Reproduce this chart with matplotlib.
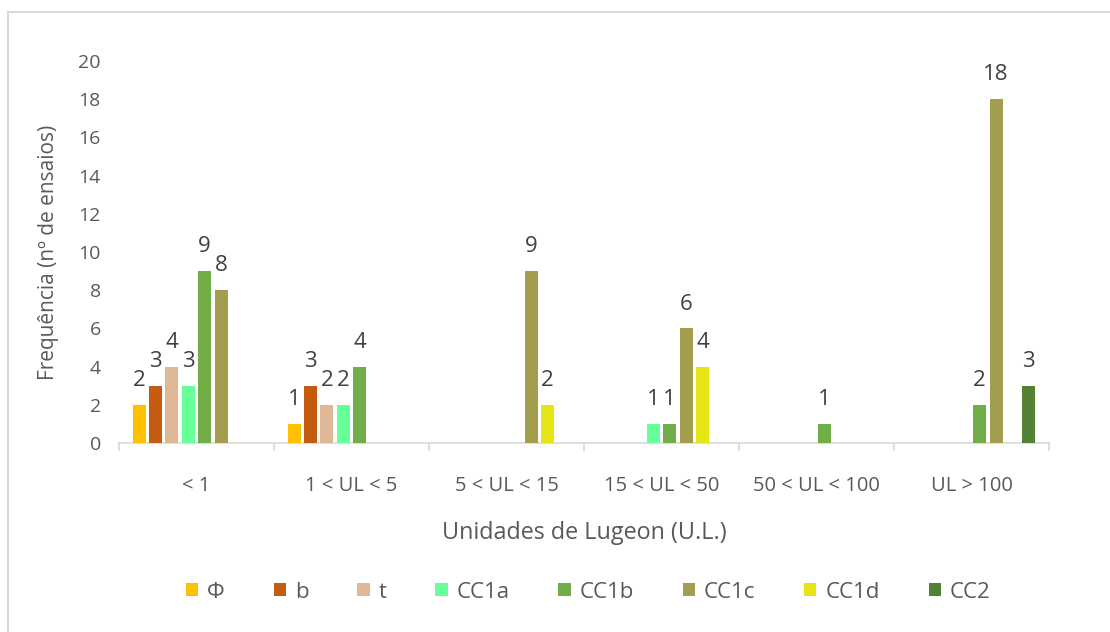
import numpy as np
import matplotlib.pyplot as plt
from matplotlib.lines import Line2D

plt.rcParams["font.family"] = ["Open Sans", "DejaVu Sans"]

categories = ["< 1", "1 < UL < 5", "5 < UL < 15", "15 < UL < 50", "50 < UL < 100", "UL > 100"]
series_names = ["Φ", "b", "t", "CC1a", "CC1b", "CC1c", "CC1d", "CC2"]
colors = ["#FFC000", "#C55A11", "#DEB896", "#66FF99", "#70AD47", "#A29E4E", "#E6E617", "#548235"]

# blank cells stay None so no bar / label is drawn
phi = [2, 1, None, None, None, None]
b = [3, 3, None, None, None, None]
t = [4, 2, None, None, None, None]
cc1a = [3, 2, None, 1, None, None]
cc1b = [9, 4, None, 1, 1, 2]
cc1c = [8, None, 9, 6, None, 18]
cc1d = [None, None, 2, 4, None, None]
cc2 = [None, None, None, None, None, 3]
series = [phi, b, t, cc1a, cc1b, cc1c, cc1d, cc2]

TEXT = "#595959"
LABEL = "#404040"

fig = plt.figure(figsize=(11.1, 6.32), dpi=100)
ax = fig.add_axes([0.1072, 0.299, 0.8378, 0.6045])

x = np.arange(len(categories))
slot = 0.1058
width = 0.084
for i, (name, vals, col) in enumerate(zip(series_names, series, colors)):
    v = np.array([np.nan if a is None else a for a in vals], dtype=float)
    mask = ~np.isnan(v)
    bars = ax.bar(x[mask] + (i - 3.5) * slot, v[mask], width=width, color=col,
                  label=name, zorder=3)
    ax.bar_label(bars, labels=[f"{int(val)}" for val in v[mask]], padding=10,
                 fontsize=16, color=LABEL)

ax.set_xlim(-0.5, len(categories) - 0.5)
ax.set_ylim(0, 20)
ax.set_yticks(range(0, 21, 2))

ax.set_xticks(x)
ax.set_xticklabels(categories, fontsize=14.5, color=TEXT)
ax.set_xticks(np.arange(-0.5, len(categories)), minor=True)
ax.tick_params(axis="x", which="major", length=0, pad=24)
ax.tick_params(axis="x", which="minor", length=6, width=1.2, color="#D9D9D9")
ax.tick_params(axis="y", length=0, pad=13, labelsize=14, labelcolor=TEXT)

for side in ["top", "right", "left"]:
    ax.spines[side].set_visible(False)
ax.spines["bottom"].set_color("#D9D9D9")
ax.spines["bottom"].set_linewidth(1.2)

ax.set_ylabel("Frequência (nº de ensaios)", fontsize=15, color=TEXT, labelpad=14)
ax.set_xlabel("Unidades de Lugeon (U.L.)", fontsize=16.8, color=TEXT, labelpad=18)

fig.legend(loc="center", bbox_to_anchor=(0.53, 1 - 592 / 632), ncol=8, frameon=False,
           fontsize=16, labelcolor=TEXT, handlelength=0.55, handleheight=0.55,
           handletextpad=0.4, columnspacing=2.2)

# chart area outline (top and left edges visible)
fig.add_artist(Line2D([8 / 1110, 1.0], [1 - 12 / 632] * 2, transform=fig.transFigure,
                      color="#D9D9D9", lw=1.5))
fig.add_artist(Line2D([8 / 1110] * 2, [0.0, 1 - 12 / 632], transform=fig.transFigure,
                      color="#D9D9D9", lw=1.5))

fig.savefig("out.png", dpi=100)
